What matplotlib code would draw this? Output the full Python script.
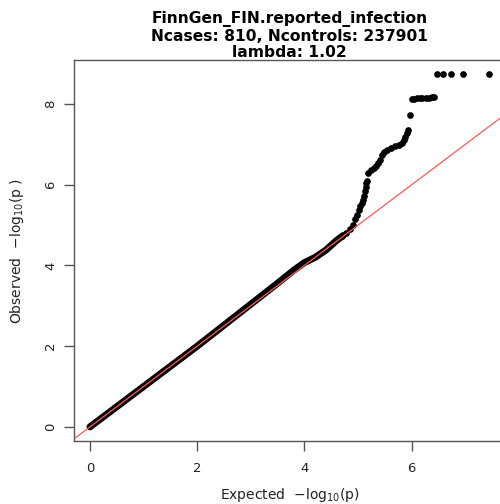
import numpy as np
import matplotlib
matplotlib.use("Agg")
import matplotlib.pyplot as plt

# QQ plot values (expected vs observed -log10 p)
# dense part that follows the diagonal
diag_exp = [0.0, 0.5, 1.0, 1.5, 2.0, 2.5, 3.0, 3.5, 3.8, 4.0, 4.2, 4.4, 4.6, 4.72]
diag_obs = [0.0, 0.5, 1.0, 1.5, 2.0, 2.52, 3.04, 3.56, 3.88, 4.07, 4.2, 4.38, 4.62, 4.74]

# tail, drawn as single points
tail_exp = [4.70, 4.78, 4.85, 4.90, 4.94, 4.98, 5.01, 5.04, 5.07, 5.09, 5.11, 5.13,
            5.14, 5.15, 5.17, 5.19, 5.24, 5.29, 5.34, 5.38, 5.41, 5.44, 5.49, 5.54,
            5.61, 5.69, 5.76, 5.82, 5.85, 5.88, 5.91, 5.93, 5.97,
            6.00, 6.05, 6.10, 6.15, 6.20, 6.26, 6.32, 6.38, 6.42,
            6.47, 6.59, 6.73, 6.96, 7.44]
tail_obs = [4.72, 4.80, 4.89, 5.0, 5.14, 5.26, 5.38, 5.46, 5.55, 5.63, 5.71, 5.84,
            5.94, 6.04, 6.09, 6.29, 6.36, 6.41, 6.47, 6.53, 6.62, 6.74, 6.81, 6.86,
            6.91, 6.95, 6.99, 7.03, 7.11, 7.19, 7.28, 7.36, 7.73,
            8.12, 8.13, 8.14, 8.14, 8.15, 8.15, 8.16, 8.17, 8.18,
            8.74, 8.74, 8.74, 8.74, 8.74]

xticks = [0, 2, 4, 6]
yticks = [0, 2, 4, 6, 8]
title = "FinnGen_FIN.reported_infection\nNcases: 810, Ncontrols: 237901\nlambda: 1.02"

fig = plt.figure(figsize=(5, 5.04), dpi=100)
ax = fig.add_axes([0.148, 0.125, 0.862, 0.756])

ax.plot(diag_exp, diag_obs, color="black", lw=5, solid_capstyle="round")
ax.plot(tail_exp, tail_obs, "o", color="black", ms=3.8, mec="black")
ax.axline((0, 0), slope=1, color="#ff5a5a", lw=0.9)

ax.set_xlim(-0.2976, 7.74)
ax.set_ylim(-0.35, 9.09)
ax.set_xticks(xticks)
ax.set_yticks(yticks)
ax.set_yticklabels([str(t) for t in yticks], rotation=90, va="center")

for s in ax.spines.values():
    s.set_color("#555555")
    s.set_linewidth(1.0)
ax.tick_params(colors="#555555", labelcolor="#222222", labelsize=9.5,
               length=7, width=1.0)
ax.tick_params(axis="x", pad=8)
ax.tick_params(axis="y", pad=5)

ax.set_xlabel(r"Expected  $-\mathrm{log}_{10}(\mathrm{p})$", fontsize=10,
              color="#222222", labelpad=8)
ax.set_ylabel(r"Observed  $-\mathrm{log}_{10}(\mathrm{p}\ )$", fontsize=10,
              color="#222222", labelpad=13)

fig.text(0.579, 0.929, title, ha="center", va="center", fontsize=11.2,
         fontweight="bold", linespacing=1.12)

fig.savefig("out.png", dpi=100)
